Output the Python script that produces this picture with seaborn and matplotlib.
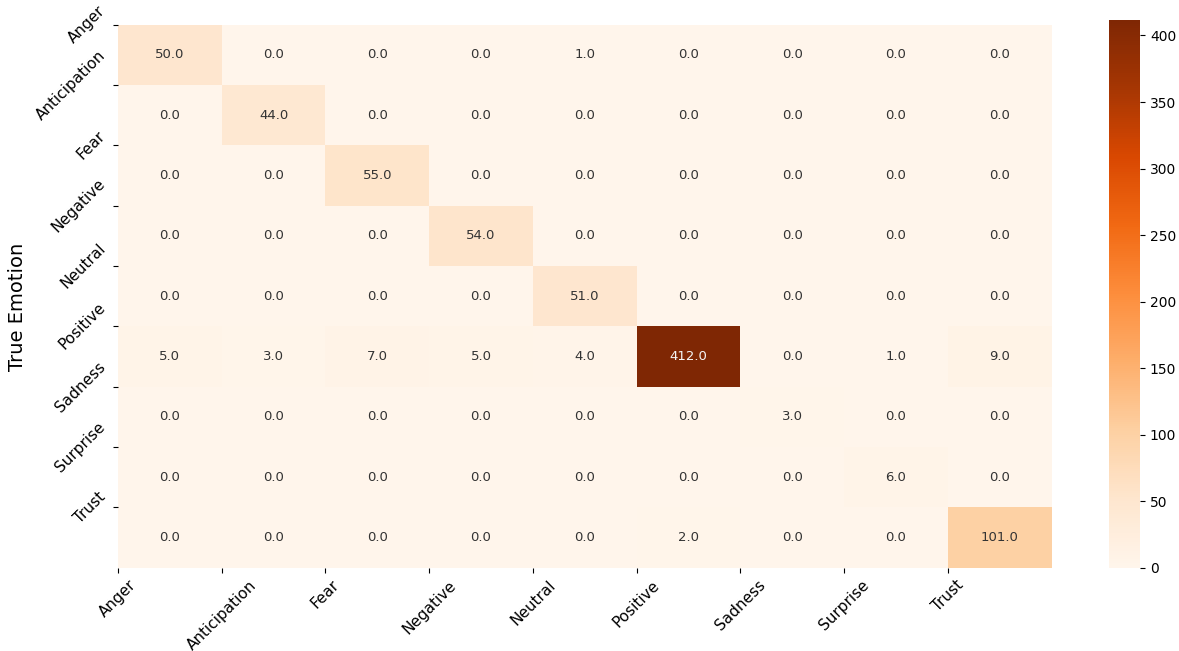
import numpy as np
import pandas as pd
import seaborn as sns
import matplotlib
matplotlib.use('Agg')
import matplotlib.pyplot as plt

emotions = ['Anger', 'Anticipation', 'Fear', 'Negative', 'Neutral',
            'Positive', 'Sadness', 'Surprise', 'Trust']

# rows = true emotion, columns = predicted
row_anger = [50, 0, 0, 0, 1, 0, 0, 0, 0]
row_anticipation = [0, 44, 0, 0, 0, 0, 0, 0, 0]
row_fear = [0, 0, 55, 0, 0, 0, 0, 0, 0]
row_negative = [0, 0, 0, 54, 0, 0, 0, 0, 0]
row_neutral = [0, 0, 0, 0, 51, 0, 0, 0, 0]
row_positive = [5, 3, 7, 5, 4, 412, 0, 1, 9]
row_sadness = [0, 0, 0, 0, 0, 0, 3, 0, 0]
row_surprise = [0, 0, 0, 0, 0, 0, 0, 6, 0]
row_trust = [0, 0, 0, 0, 0, 2, 0, 0, 101]

cm = pd.DataFrame([row_anger, row_anticipation, row_fear, row_negative, row_neutral,
                   row_positive, row_sadness, row_surprise, row_trust],
                  index=emotions, columns=emotions, dtype=float)

fig = plt.figure(figsize=(11.79, 6.51), dpi=100)
ax = fig.add_axes([0.100, 0.128, 0.792, 0.834])
cax = fig.add_axes([0.941, 0.128, 0.026, 0.842])

sns.heatmap(cm, annot=True, fmt='.1f', cmap='Oranges', ax=ax, cbar_ax=cax,
            annot_kws={'fontsize': 9.5, 'color': '#333333'})
# keep the dark cell's text light
for t in ax.texts:
    if t.get_text() == '412.0':
        t.set_color('#f5f5f5')

ax.set_xticks(range(len(emotions)))
ax.set_xticklabels(emotions, rotation=45, ha='center', fontsize=11)
ax.set_yticks(range(len(emotions)))
ax.set_yticklabels(emotions, rotation=45, ha='right', va='center', fontsize=11)
ax.set_ylabel('True Emotion', fontsize=14)
ax.yaxis.set_label_coords(-0.097, 0.48)
ax.set_xlabel('')
cax.tick_params(labelsize=10)

plt.savefig('out.png', dpi=100)
